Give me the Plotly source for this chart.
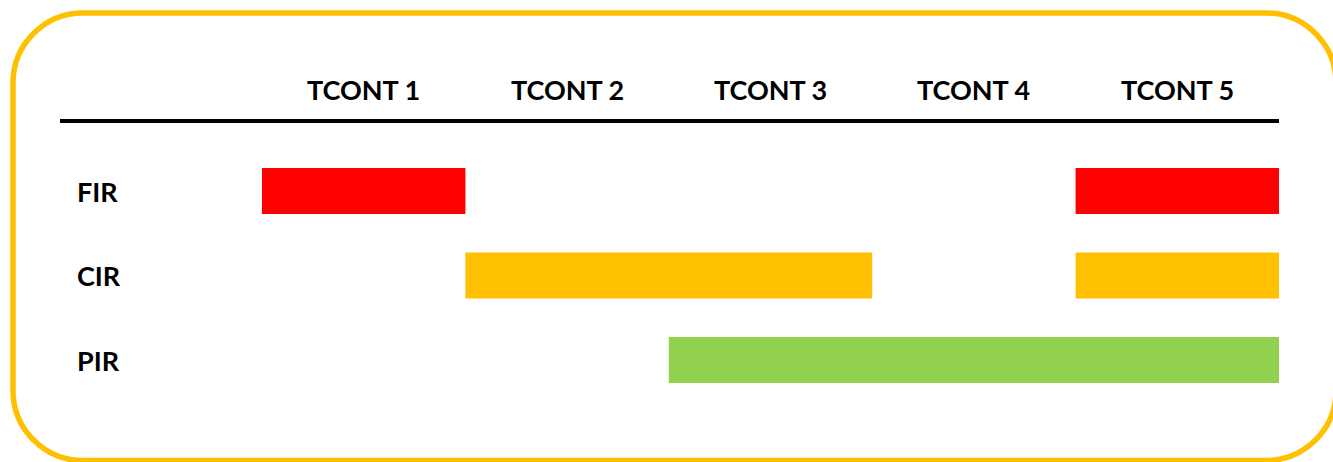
import plotly.graph_objects as go

# ---- data ----
columns = ["TCONT 1", "TCONT 2", "TCONT 3", "TCONT 4", "TCONT 5"]
rows = ["FIR", "CIR", "PIR"]
# segments per row: start column index and span (in columns)
fir_start = [0, 4]
fir_span = [1, 1]
cir_start = [1, 4]
cir_span = [2, 1]
pir_start = [2]
pir_span = [3]
row_colors = ["#FF0000", "#FFC000", "#92D050"]

W, H = 1333, 462
FONT = "Lato"

fig = go.Figure()
for i, (starts, spans) in enumerate([(fir_start, fir_span), (cir_start, cir_span), (pir_start, pir_span)]):
    fig.add_trace(go.Bar(
        orientation="h",
        y=[i] * len(starts),
        base=starts,
        x=spans,
        width=0.544,
        marker=dict(color=row_colors[i], line=dict(width=0)),
        hoverinfo="skip",
        showlegend=False,
    ))

# column headers
for j, c in enumerate(columns):
    fig.add_annotation(x=j + 0.5, y=-1.2, xref="x", yref="y", text=f"<b>{c}</b>",
                       showarrow=False, font=dict(family=FONT, size=27, color="black"),
                       xanchor="center", yanchor="middle")
# row labels
for i, r in enumerate(rows):
    fig.add_annotation(x=75 / W, y=i, xref="paper", yref="y", text=f"<b>{r}</b>",
                       showarrow=False, font=dict(family=FONT, size=27, color="black"),
                       xanchor="left", yanchor="middle")

# header rule
fig.add_shape(type="line", xref="paper", yref="y", x0=60 / W, x1=1279 / W, y0=-0.828, y1=-0.828,
              line=dict(color="black", width=4))

# rounded frame (partly cut off at right and bottom, as in the reference)
def px(x):
    return x / W

def py(y):
    return (H - y) / H

L, T, R, B, r = 13, 13, 1336, 460.5, 70
k = 0.5523 * r
pts = [
    f"M {px(L + r)},{py(T)}",
    f"L {px(R - r)},{py(T)}",
    f"C {px(R - r + k)},{py(T)} {px(R)},{py(T + r - k)} {px(R)},{py(T + r)}",
    f"L {px(R)},{py(B - r)}",
    f"C {px(R)},{py(B - r + k)} {px(R - r + k)},{py(B)} {px(R - r)},{py(B)}",
    f"L {px(L + r)},{py(B)}",
    f"C {px(L + r - k)},{py(B)} {px(L)},{py(B - r + k)} {px(L)},{py(B - r)}",
    f"L {px(L)},{py(T + r)}",
    f"C {px(L)},{py(T + r - k)} {px(L + r - k)},{py(T)} {px(L + r)},{py(T)}",
    "Z",
]
fig.add_shape(type="path", xref="paper", yref="paper", path=" ".join(pts),
              line=dict(color="#FFC000", width=5.5), layer="above")

scale = (1279 - 262) / 5.0
x0 = -262 / scale
x1 = x0 + W / scale
rs = 84.5
y_top = -191 / rs
y_bot = (H - 191) / rs

fig.update_layout(
    width=W, height=H,
    margin=dict(l=0, r=0, t=0, b=0),
    paper_bgcolor="white", plot_bgcolor="white",
    barmode="overlay",
    xaxis=dict(range=[x0, x1], visible=False, fixedrange=True),
    yaxis=dict(range=[y_bot, y_top], visible=False, fixedrange=True),
    showlegend=False,
)

fig.write_html(
    "out.html",
    config={"displayModeBar": False},
    post_script="document.body.style.margin='0';document.body.style.overflow='hidden';",
)
